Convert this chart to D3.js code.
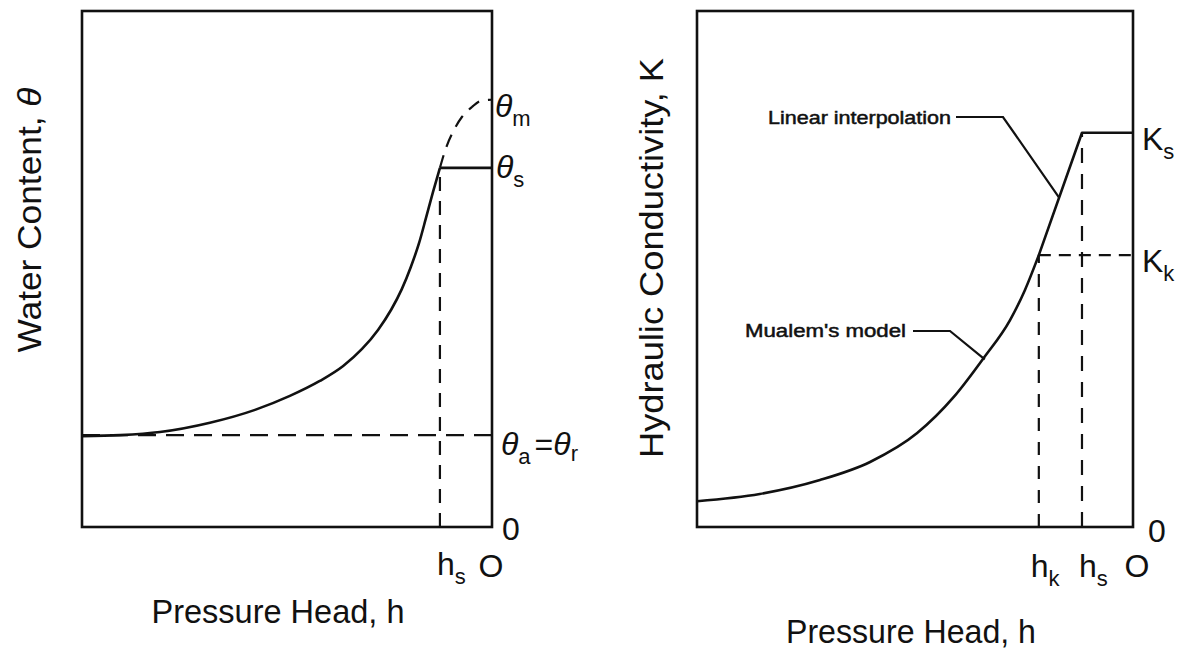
<!DOCTYPE html>
<html>
<head>
<meta charset="utf-8">
<script src="https://cdn.jsdelivr.net/npm/d3@7"></script>
<style>
  html, body { margin: 0; padding: 0; background: #fff; }
  svg { display: block; }
  text { font-family: "Liberation Sans", Arial, Helvetica, sans-serif; fill: #111; }
</style>
</head>
<body>
<svg id="chart" width="1183" height="653"></svg>
<script>
// ---------- DATA (abstract units: h from -100 to 0, y from 0 to 100) ----------
// Left panel: water retention curve
const retentionH     = [-100, -90.7, -81.0, -68.8, -57.8, -49.3, -42.0, -36.3, -31.7, -27.8, -24.6, -22.0, -19.8, -17.8, -16.1, -14.4, -12.7];
const retentionTheta = [17.6, 17.8, 18.4, 20.2, 22.7, 25.4, 28.3, 31.2, 34.5, 38.2, 42.1, 46.1, 50.4, 55.0, 59.9, 64.9, 69.6];
// Dashed extrapolation toward theta_m
const extrapH     = [-12.7, -11.2, -9.5, -7.3, -4.9, -2.7, 0];
const extrapTheta = [69.6, 73.5, 76.6, 79.5, 81.4, 82.6, 82.8];
const thetaS = 69.6, thetaM = 82.8, thetaR = 17.8, hsLeft = -12.7;

// Right panel: hydraulic conductivity
const mualemH = [-100, -85.6, -71.8, -60.3, -49.5, -41.1, -34.2, -28.2, -24.8, -21.6];
const mualemK = [5.0, 6.4, 9.1, 12.6, 18.2, 25.2, 32.8, 40.1, 45.9, 52.7];
const Ks = 76.4, Kk = 52.7, hkRight = -21.6, hsRight = -11.7;

// Annotation labels
const annLabels = ["Linear interpolation", "Mualem's model"];

// ---------- LAYOUT ----------
const svg = d3.select("#chart");
const ink = "#111";

const xL = d3.scaleLinear().domain([-100, 0]).range([82, 492]);
const yL = d3.scaleLinear().domain([0, 100]).range([527, 11]);
const xR = d3.scaleLinear().domain([-100, 0]).range([697, 1133]);
const yR = d3.scaleLinear().domain([0, 100]).range([527, 11]);

function frame(x, y) {
  svg.append("rect")
    .attr("x", x.range()[0]).attr("y", y.range()[1])
    .attr("width", x.range()[1] - x.range()[0])
    .attr("height", y.range()[0] - y.range()[1])
    .attr("fill", "none").attr("stroke", ink).attr("stroke-width", 2.6);
}
frame(xL, yL);
frame(xR, yR);

function path(points, x, y, opts) {
  const line = d3.line().x(d => x(d[0])).y(d => y(d[1])).curve(opts.curve || d3.curveLinear);
  const p = svg.append("path").attr("d", line(points))
    .attr("fill", "none").attr("stroke", ink)
    .attr("stroke-width", opts.w || 2.4)
    .attr("stroke-linejoin", "round").attr("stroke-linecap", "butt");
  if (opts.dash) p.attr("stroke-dasharray", opts.dash);
  return p;
}

// ---------- LEFT PANEL ----------
path([[-100, thetaR], [0, thetaR]], xL, yL, { dash: "18,10", w: 2.2 });
path([[hsLeft, 0], [hsLeft, thetaS]], xL, yL, { dash: "14,10", w: 2.2 });
path(retentionH.map((h, i) => [h, retentionTheta[i]]), xL, yL, { curve: d3.curveMonotoneX, w: 2.6 });
path([[hsLeft, thetaS], [0, thetaS]], xL, yL, { w: 2.6 });
path(extrapH.map((h, i) => [h, extrapTheta[i]]), xL, yL, { curve: d3.curveMonotoneX, dash: "13,9", w: 2.2 });

// ---------- RIGHT PANEL ----------
path([[hkRight, 0], [hkRight, Kk]], xR, yR, { dash: "13,11", w: 2.2 });
path([[hsRight, 0], [hsRight, Ks]], xR, yR, { dash: "15,11", w: 2.2 });
path([[hkRight, Kk], [0, Kk]], xR, yR, { dash: "12,8", w: 2.2 });
path(mualemH.map((h, i) => [h, mualemK[i]]), xR, yR, { curve: d3.curveMonotoneX, w: 2.6 });
path([[hkRight, Kk], [hsRight, Ks], [0, Ks]], xR, yR, { w: 2.6 });

// Annotation leaders (anchored on the plotted lines)
const tLin = 0.47;
const linPt = [hkRight + (hsRight - hkRight) * tLin, Kk + (Ks - Kk) * tLin];
svg.append("text")
  .attr("x", 768).attr("y", 124)
  .attr("font-size", 18).attr("textLength", 183).attr("lengthAdjust", "spacingAndGlyphs")
  .attr("stroke", ink).attr("stroke-width", 0.5)
  .text(annLabels[0]);
svg.append("path")
  .attr("d", d3.line()([[956, 117], [1003, 117], [xR(linPt[0]), yR(linPt[1])]]))
  .attr("fill", "none").attr("stroke", ink).attr("stroke-width", 2.2);

const muPt = [mualemH[6] + 0.2, mualemK[6] - 0.3];
svg.append("text")
  .attr("x", 745).attr("y", 337)
  .attr("font-size", 18).attr("textLength", 161).attr("lengthAdjust", "spacingAndGlyphs")
  .attr("stroke", ink).attr("stroke-width", 0.5)
  .text(annLabels[1]);
svg.append("path")
  .attr("d", d3.line()([[913, 331], [950, 331], [xR(muPt[0]), yR(muPt[1])]]))
  .attr("fill", "none").attr("stroke", ink).attr("stroke-width", 2.2);

// ---------- LABELS ----------
const FS = 32, SUB = 22;
function subLabel(x, y, main, sub, italicMain, anchor) {
  const t = svg.append("text").attr("x", x).attr("y", y).attr("font-size", FS)
    .attr("text-anchor", anchor || "start");
  t.append("tspan").text(main).style("font-style", italicMain ? "italic" : "normal");
  if (sub) t.append("tspan").attr("font-size", SUB).attr("dy", 9).text(sub);
  return t;
}
subLabel(xL(0) + 3, yL(thetaM) + 17, "θ", "m", true);
subLabel(xL(0) + 4, yL(thetaS) + 10, "θ", "s", true);
(function () {
  const t = svg.append("text").attr("x", xL(0) + 9).attr("y", yL(thetaR) + 20).attr("font-size", FS);
  t.append("tspan").text("θ").style("font-style", "italic");
  t.append("tspan").attr("font-size", SUB).attr("dy", 9).text("a");
  t.append("tspan").attr("dy", -9).attr("dx", 4).text("=");
  t.append("tspan").text("θ").style("font-style", "italic");
  t.append("tspan").attr("font-size", SUB).attr("dy", 6).text("r");
})();
svg.append("text").attr("x", xL(0) + 19).attr("y", yL(0) + 13).attr("font-size", FS)
  .attr("text-anchor", "middle").text("0");
subLabel(xL(hsLeft) - 3, 575, "h", "s", false);
svg.append("text").attr("x", xL(0) - 1).attr("y", 577).attr("font-size", FS)
  .attr("text-anchor", "middle").text("O");

subLabel(xR(0) + 9, yR(Ks) + 17, "K", "s", false);
subLabel(xR(0) + 9, yR(Kk) + 17, "K", "k", false);
svg.append("text").attr("x", xR(0) + 24).attr("y", yR(0) + 15).attr("font-size", FS)
  .attr("text-anchor", "middle").text("0");
subLabel(xR(hkRight) - 8, 577, "h", "k", false);
subLabel(xR(hsRight) - 3, 577, "h", "s", false);
svg.append("text").attr("x", xR(0) + 4).attr("y", 577).attr("font-size", FS)
  .attr("text-anchor", "middle").text("O");

// axis titles
svg.append("text").attr("x", 278).attr("y", 623).attr("font-size", 33)
  .attr("text-anchor", "middle").attr("textLength", 253).attr("lengthAdjust", "spacingAndGlyphs")
  .text("Pressure Head, h");
svg.append("text").attr("x", 911).attr("y", 643).attr("font-size", 33)
  .attr("text-anchor", "middle").attr("textLength", 250).attr("lengthAdjust", "spacingAndGlyphs")
  .text("Pressure Head, h");

(function () {
  const t = svg.append("text").attr("transform", "translate(41,220) rotate(-90)")
    .attr("font-size", 33).attr("text-anchor", "middle")
    .attr("textLength", 265).attr("lengthAdjust", "spacingAndGlyphs");
  t.append("tspan").text("Water Content, ");
  t.append("tspan").style("font-style", "italic").text("θ");
})();
svg.append("text").attr("transform", "translate(663,258) rotate(-90)")
  .attr("font-size", 33).attr("text-anchor", "middle")
  .attr("textLength", 400).attr("lengthAdjust", "spacingAndGlyphs")
  .text("Hydraulic Conductivity, K");
</script>
</body>
</html>
